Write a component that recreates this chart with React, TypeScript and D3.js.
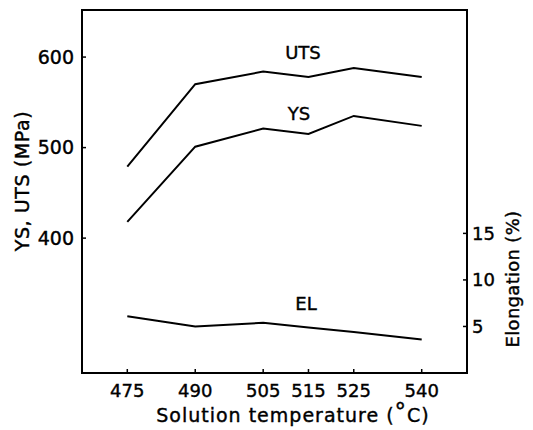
import React from "react";
import * as d3 from "d3";

// solution temperature (°C)
const temps = [475, 490, 505, 515, 525, 540];
// strengths in MPa, elongation in %
const uts = [479, 570, 584, 578, 588, 578];
const ys = [418, 501, 521, 515, 535, 524];
const el = [6.1, 5.0, 5.4, 4.9, 4.4, 3.6];

const leftTicks = [400, 500, 600];
const rightTicks = [5, 10, 15];

const W = 533;
const H = 430;
const m = { left: 82, right: 467, top: 10, bottom: 373 };
const font = "DejaVu Sans, sans-serif";

export default function App() {
  const x = d3.scaleLinear().domain([465, 550]).range([m.left, m.right]);
  const yL = d3.scaleLinear().domain([251, 652]).range([m.bottom, m.top]);
  const yR = d3.scaleLinear().domain([0, 39]).range([m.bottom, m.top]);

  const lineL = d3
    .line<number>()
    .x((_, i) => x(temps[i]))
    .y((d) => yL(d));
  const lineR = d3
    .line<number>()
    .x((_, i) => x(temps[i]))
    .y((d) => yR(d));

  const tick = 4;
  // slightly heavier text, like the printed original
  const ink = { stroke: "#000", strokeWidth: 0.4 };

  return (
    <svg
      width={W}
      height={H}
      style={{ position: "absolute", left: 0, top: 0, background: "#fff" }}
      fontFamily={font}
    >
      <rect
        x={m.left}
        y={m.top}
        width={m.right - m.left}
        height={m.bottom - m.top}
        fill="none"
        stroke="#000"
        strokeWidth={2}
      />

      {/* x axis ticks */}
      {temps.map((t) => (
        <g key={t}>
          <line x1={x(t)} x2={x(t)} y1={m.bottom} y2={m.bottom - tick} stroke="#000" strokeWidth={1.5} />
          <text x={x(t)} y={397} textAnchor="middle" fontSize={18} {...ink}>
            {t}
          </text>
        </g>
      ))}

      {/* left axis */}
      {leftTicks.map((v) => (
        <g key={v}>
          <line x1={m.left} x2={m.left + tick} y1={yL(v)} y2={yL(v)} stroke="#000" strokeWidth={1.5} />
          <text x={m.left - 8} y={yL(v)} dy="0.36em" textAnchor="end" fontSize={19} {...ink}>
            {v}
          </text>
        </g>
      ))}

      {/* right axis */}
      {rightTicks.map((v) => (
        <g key={v}>
          <line x1={m.right} x2={m.right - tick} y1={yR(v)} y2={yR(v)} stroke="#000" strokeWidth={1.5} />
          <text x={m.right + 5} y={yR(v)} dy="0.36em" textAnchor="start" fontSize={18} {...ink}>
            {v}
          </text>
        </g>
      ))}

      <path d={lineL(uts) ?? ""} fill="none" stroke="#000" strokeWidth={2} />
      <path d={lineL(ys) ?? ""} fill="none" stroke="#000" strokeWidth={2} />
      <path d={lineR(el) ?? ""} fill="none" stroke="#000" strokeWidth={2} />

      <text x={303} y={59} textAnchor="middle" fontSize={18} {...ink}>UTS</text>
      <text x={299} y={120} textAnchor="middle" fontSize={18} {...ink}>YS</text>
      <text x={306} y={310} textAnchor="middle" fontSize={18} {...ink}>EL</text>

      <text x={293} y={422} textAnchor="middle" fontSize={19} letterSpacing={1} {...ink}>
        Solution temperature (<tspan fontSize={23} dy={-3}>°</tspan>
        <tspan dy={3}>C)</tspan>
      </text>
      <text
        transform={`translate(29,181) rotate(-90)`}
        textAnchor="middle"
        fontSize={19}
        letterSpacing={0.6}
        {...ink}
      >
        YS, UTS (MPa)
      </text>
      <text
        transform={`translate(519,279) rotate(-90)`}
        textAnchor="middle"
        fontSize={18}
        letterSpacing={0.3}
        {...ink}
      >
        Elongation (%)
      </text>
    </svg>
  );
}
